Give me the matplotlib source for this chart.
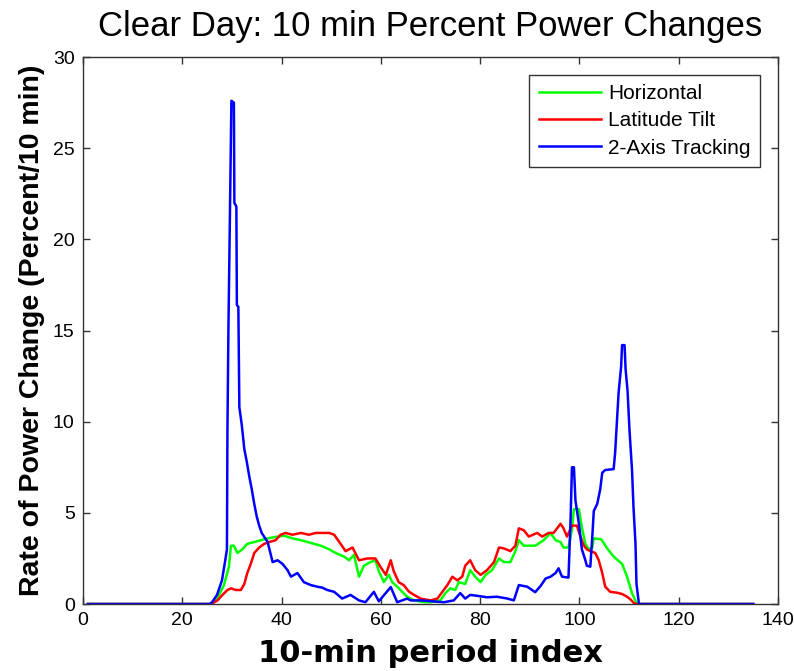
import matplotlib
matplotlib.use("Agg")
import matplotlib.pyplot as plt

plt.rcParams["font.family"] = ["Liberation Sans", "DejaVu Sans"]

# Horizontal array
horiz_x = [1, 26, 27.4, 28.4, 29.4, 29.8, 30.4, 31.1, 32.1, 33.1, 34.5, 35.8, 37.2, 39.2,
           40.5, 42.2, 43.9, 45.9, 47.9, 49.6, 50.9, 52.6, 53.6, 54.6, 55.6, 56.6, 57.9,
           58.9, 59.6, 60.6, 61.6, 62.3, 63.3, 64.3, 65.3, 66.7, 68.7, 70, 72, 73, 74, 75,
           75.7, 77, 78, 79, 80.1, 81.1, 82.4, 83.8, 84.8, 86.1, 87.1, 87.8, 88.8, 90.1,
           91.1, 92.8, 94.2, 95.2, 96.2, 96.8, 97.8, 98.5, 98.9, 99.9, 100.5, 101.2, 101.9,
           102.6, 102.9, 104.4, 105.6, 106.9, 108.6, 109.6, 110.6, 111.6, 135]
horiz_y = [0, 0, 0.5, 1.04, 2.05, 3.2, 3.2, 2.8, 3.0, 3.3, 3.4, 3.5, 3.6, 3.7,
           3.75, 3.6, 3.5, 3.35, 3.2, 3.0, 2.8, 2.6, 2.4, 2.7, 1.5, 2.1, 2.3,
           2.4, 1.8, 1.2, 1.6, 1.2, 0.95, 0.67, 0.4, 0.2, 0.1, 0.1, 0.2, 0.6, 0.86, 0.77,
           1.2, 1.1, 1.86, 1.5, 1.2, 1.6, 1.86, 2.5, 2.3, 2.3, 2.9, 3.5, 3.2, 3.2,
           3.2, 3.5, 3.9, 3.5, 3.4, 3.1, 3.1, 4.1, 5.2, 5.2, 4.2, 3.3, 3.0,
           3.1, 3.6, 3.55, 3.05, 2.6, 2.2, 1.5, 0.6, 0, 0]

# Latitude tilt array
tilt_x = [1, 25.8, 27.1, 28.1, 29.1, 29.8, 30.8, 31.8, 32.5, 33.1, 33.8, 34.5, 35.5, 36.5,
          37.5, 38.8, 39.8, 40.8, 42.2, 43.9, 45.5, 46.9, 49.6, 50.6, 51.9, 52.9, 54.3,
          55.6, 57.3, 58.9, 59.9, 61, 62, 62.6, 63.6, 64.6, 65.7, 66.7, 68, 70, 71.4,
          72.4, 73.4, 74.4, 75.4, 76.4, 77, 78, 79, 80.1, 81.4, 82.8, 83.8, 84.8, 86.1,
          87.1, 87.8, 88.8, 89.8, 91.5, 92.5, 93.8, 94.8, 95.5, 96.2, 96.8, 97.5, 98.5,
          99.5, 100.2, 100.9, 101.5, 102.2, 103.2, 103.9, 104.6, 105.2, 106.2, 107.6,
          108.6, 109.6, 110.3, 111, 111.6, 135]
tilt_y = [0, 0, 0.2, 0.5, 0.77, 0.86, 0.77, 0.77, 1.1, 1.7, 2.2, 2.8, 3.1, 3.3,
          3.4, 3.5, 3.8, 3.9, 3.8, 3.9, 3.8, 3.9, 3.9, 3.8, 3.3, 2.9, 3.1,
          2.4, 2.5, 2.5, 2.05, 1.6, 2.4, 1.8, 1.2, 1.04, 0.67, 0.5, 0.3, 0.2, 0.3,
          0.67, 1.04, 1.5, 1.3, 1.5, 2.1, 2.4, 1.86, 1.6, 1.86, 2.3, 3.1, 3.05, 2.9,
          3.2, 4.15, 4.05, 3.7, 3.9, 3.7, 3.9, 3.9, 4.15, 4.4, 4.15, 3.7, 4.3,
          4.3, 3.7, 3.2, 3.0, 2.9, 2.8, 2.4, 1.7, 0.95, 0.67, 0.62,
          0.55, 0.4, 0.25, 0.05, 0, 0]

# 2-axis tracking array
track_x = [1, 25.5, 26, 27, 28, 28.6, 29.0, 29.1, 29.3, 29.6, 29.9, 30.4, 30.5, 30.9, 31.0,
           31.3, 31.5, 32, 32.5, 33, 33.5, 34, 34.5, 35, 35.5, 36, 37.2, 38.2, 39.2, 40.2,
           41.2, 41.9, 43.2, 44.5, 45.9, 47.2, 48.2, 49.2, 50.6, 52.2, 53.9, 55.6, 56.9,
           58.6, 59.6, 62.0, 63.3, 65.3, 66, 68, 72.7, 74.7, 76, 77, 78, 79.7, 81.4, 83.4,
           85.5, 86.8, 87.8, 89.5, 91.1, 92.2, 93.2, 94.2, 95.2, 95.8, 96.5, 97.8, 98.2,
           98.5, 98.9, 99.2, 99.9, 100.5, 101.2, 101.5, 102.2, 102.6, 102.9, 103.6, 104.2,
           104.6, 105.2, 106.9, 107.2, 107.6, 107.9, 108.4, 108.6, 109.1, 109.3, 109.7,
           110.1, 110.6, 110.9, 111.3, 111.5, 112, 135]
track_y = [0, 0, 0.1, 0.5, 1.3, 2.3, 3.0, 9.4, 15.1, 21.3, 27.6, 27.5, 22.0, 21.8, 16.4,
           16.3, 10.8, 9.8, 8.5, 7.8, 7.0, 6.3, 5.5, 4.8, 4.3, 3.9, 3.4, 2.3, 2.4, 2.2,
           1.86, 1.5, 1.7, 1.2, 1.04, 0.95, 0.9, 0.77, 0.67, 0.3, 0.5, 0.2, 0.1,
           0.67, 0.15, 0.93, 0.1, 0.3, 0.2, 0.2, 0.1, 0.2, 0.6, 0.3, 0.5, 0.44, 0.37, 0.4,
           0.3, 0.2, 1.04, 0.95, 0.65, 1.0, 1.4, 1.5, 1.7, 1.96, 1.5, 1.45, 4.4,
           7.5, 7.5, 5.7, 4.4, 3.0, 2.4, 2.1, 2.05, 3.7, 5.1, 5.5, 6.3,
           7.2, 7.35, 7.4, 8.3, 10.2, 11.6, 13.0, 14.2, 14.2, 12.9, 11.7,
           9.5, 7.35, 5.3, 3.3, 1.1, 0, 0]

fig = plt.figure(figsize=(7.94, 6.71), dpi=100)
ax = fig.add_axes([0.1045, 0.0998, 0.8753, 0.8152])

ax.plot(horiz_x, horiz_y, color=(0, 1, 0), lw=1.8, label="Horizontal")
ax.plot(tilt_x, tilt_y, color=(1, 0, 0), lw=1.8, label="Latitude Tilt")
ax.plot(track_x, track_y, color=(0, 0, 1), lw=1.8, label="2-Axis Tracking")

ax.set_xlim(0, 140)
ax.set_ylim(0, 30)
ax.set_xticks(range(0, 141, 20))
ax.set_yticks(range(0, 31, 5))
ax.tick_params(direction="in", top=True, right=True, labelsize=14, length=5,
               width=1, color="#333333", pad=6)
for s in ax.spines.values():
    s.set_color("#333333")
    s.set_linewidth(1)

ax.set_title("Clear Day: 10 min Percent Power Changes", fontsize=25, pad=15)
ax.set_xlabel("10-min period index", fontsize=22, fontweight="bold",
              family=["DejaVu Sans"], labelpad=7)
ax.set_ylabel("Rate of Power Change (Percent/10 min)", fontsize=20.5,
              fontweight="bold", labelpad=6)

leg = ax.legend(loc="upper right", fontsize=15, fancybox=False, framealpha=1,
                edgecolor="#333333", handlelength=3.0, borderpad=0.45,
                labelspacing=0.4, handletextpad=0.35, borderaxespad=0.85)
leg.get_frame().set_linewidth(1)

fig.savefig("out.png", dpi=100)
